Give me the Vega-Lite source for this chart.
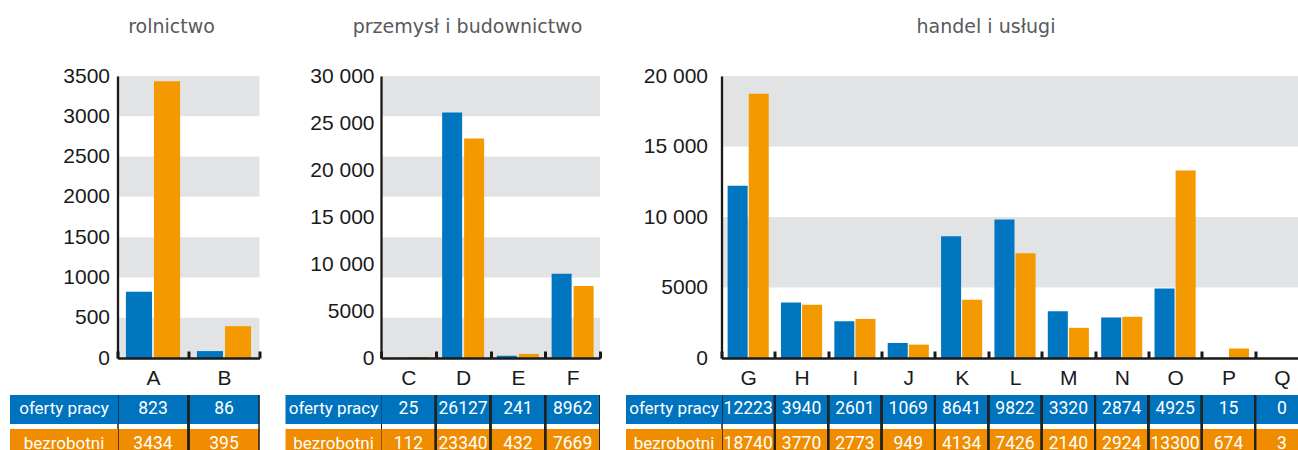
{
"$schema": "https://vega.github.io/schema/vega-lite/v6.json",
"background": "white",
"padding": {"left": -5.5, "top": 18, "right": 0, "bottom": 0},
"config": {"view": {"stroke": null}},
"datasets": {
"d": [
{"g":"rolnictwo","k":"A","s":"oferty pracy","v":823},
{"g":"rolnictwo","k":"A","s":"bezrobotni","v":3434},
{"g":"rolnictwo","k":"B","s":"oferty pracy","v":86},
{"g":"rolnictwo","k":"B","s":"bezrobotni","v":395},
{"g":"przemysl","k":"C","s":"oferty pracy","v":25},
{"g":"przemysl","k":"C","s":"bezrobotni","v":112},
{"g":"przemysl","k":"D","s":"oferty pracy","v":26127},
{"g":"przemysl","k":"D","s":"bezrobotni","v":23340},
{"g":"przemysl","k":"E","s":"oferty pracy","v":241},
{"g":"przemysl","k":"E","s":"bezrobotni","v":432},
{"g":"przemysl","k":"F","s":"oferty pracy","v":8962},
{"g":"przemysl","k":"F","s":"bezrobotni","v":7669},
{"g":"handel","k":"G","s":"oferty pracy","v":12223},
{"g":"handel","k":"G","s":"bezrobotni","v":18740},
{"g":"handel","k":"H","s":"oferty pracy","v":3940},
{"g":"handel","k":"H","s":"bezrobotni","v":3770},
{"g":"handel","k":"I","s":"oferty pracy","v":2601},
{"g":"handel","k":"I","s":"bezrobotni","v":2773},
{"g":"handel","k":"J","s":"oferty pracy","v":1069},
{"g":"handel","k":"J","s":"bezrobotni","v":949},
{"g":"handel","k":"K","s":"oferty pracy","v":8641},
{"g":"handel","k":"K","s":"bezrobotni","v":4134},
{"g":"handel","k":"L","s":"oferty pracy","v":9822},
{"g":"handel","k":"L","s":"bezrobotni","v":7426},
{"g":"handel","k":"M","s":"oferty pracy","v":3320},
{"g":"handel","k":"M","s":"bezrobotni","v":2140},
{"g":"handel","k":"N","s":"oferty pracy","v":2874},
{"g":"handel","k":"N","s":"bezrobotni","v":2924},
{"g":"handel","k":"O","s":"oferty pracy","v":4925},
{"g":"handel","k":"O","s":"bezrobotni","v":13300},
{"g":"handel","k":"P","s":"oferty pracy","v":15},
{"g":"handel","k":"P","s":"bezrobotni","v":674},
{"g":"handel","k":"Q","s":"oferty pracy","v":0},
{"g":"handel","k":"Q","s":"bezrobotni","v":3}
],
"b": [
{"g":"rolnictwo","lo":0,"hi":500},
{"g":"rolnictwo","lo":1000,"hi":1500},
{"g":"rolnictwo","lo":2000,"hi":2500},
{"g":"rolnictwo","lo":3000,"hi":3500},
{"g":"przemysl","lo":0,"hi":4286},
{"g":"przemysl","lo":8571,"hi":12857},
{"g":"przemysl","lo":17143,"hi":21429},
{"g":"przemysl","lo":25714,"hi":30000},
{"g":"handel","lo":5000,"hi":10000},
{"g":"handel","lo":15000,"hi":20000}
]
},
"spacing": 8.5,
"resolve": {"scale": {"xOffset": "independent", "x": "independent", "y": "independent"}},
"hconcat": [
{
"spacing": 0,
"resolve": {"scale": {"xOffset": "independent"}},
"vconcat": [
{
"title": {"text": "rolnictwo", "font": "DejaVu Sans", "fontSize": 19, "fontWeight": "normal", "color": "#58595b", "offset": 28, "dx": -17},
"width": 142, "height": 282,
"layer": [
{"data": {"name": "b"}, "transform": [{"filter": "datum.g==='rolnictwo'"}],
 "mark": {"type": "rect", "color": "#e2e3e5"},
 "encoding": {"y": {"field": "lo", "type": "quantitative", "scale": {"domain": [0, 3500], "nice": false},
   "axis": {"title": null, "values": [0,500,1000,1500,2000,2500,3000,3500], "format": "d", "grid": false, "ticks": false, "domainColor": "#1a1a1a", "domainWidth": 2.3, "labelFont": "Liberation Sans", "labelFontSize": 21, "labelColor": "#1a1a1a", "labelPadding": 8, "zindex": 1}},
  "y2": {"field": "hi"}}},
{"data": {"name": "d"}, "transform": [{"filter": "datum.g==='rolnictwo'"}],
 "mark": {"type": "bar"},
 "encoding": {
  "x": {"field": "k", "type": "nominal", "scale": {"paddingInner": 0, "paddingOuter": 0},
   "axis": {"title": null, "labelAngle": 0, "domainColor": "#1a1a1a", "domainWidth": 2.5, "tickBand": "extent", "tickColor": "#1a1a1a", "tickWidth": 3, "tickSize": -7, "labelPadding": 16, "labelFont": "Liberation Sans", "labelFontSize": 21, "labelColor": "#1a1a1a", "minExtent": 36, "maxExtent": 36, "zindex": 1}},
  "xOffset": {"field": "s", "sort": ["oferty pracy", "bezrobotni"], "scale": {"paddingInner": 0.07, "paddingOuter": 0.3}},
  "y": {"field": "v", "type": "quantitative", "scale": {"domain": [0, 3500], "nice": false},
   "axis": {"title": null, "values": [0,500,1000,1500,2000,2500,3000,3500], "format": "d", "grid": false, "ticks": false, "domainColor": "#1a1a1a", "domainWidth": 2.3, "labelFont": "Liberation Sans", "labelFontSize": 21, "labelColor": "#1a1a1a", "labelPadding": 8, "zindex": 1}},
  "color": {"field": "s", "type": "nominal", "scale": {"domain": ["oferty pracy", "bezrobotni"], "range": ["#0076c0", "#f49900"]}, "legend": null}}}
]
},
{"width": 142, "height": 63,
 "data": {"name": "d"},
 "transform": [{"filter": "datum.g==='rolnictwo'"}],
 "layer": [
  {"mark": {"type": "rect"}, "encoding": {
    "x": {"field": "k", "type": "nominal", "scale": {"paddingInner": 0, "paddingOuter": 0}, "axis": null},
    "y": {"field": "s", "type": "nominal", "scale": {"domain": ["oferty pracy", "bezrobotni"], "paddingInner": 0.15, "paddingOuter": 0},
      "axis": {"orient": "left", "title": null, "domain": false, "ticks": true, "tickSize": 108, "tickWidth": 29, "tickColor": {"condition": {"test": "datum.value === 'oferty pracy'", "value": "#0073be"}, "value": "#ef8c00"}, "labelColor": "white", "labelFont": "Roboto", "labelFontSize": 17, "labelAlign": "center", "labelPadding": -54}},
    "color": {"condition": {"test": "datum.s==='oferty pracy'", "value": "#0073be"}, "value": "#ef8c00"}}},
  {"mark": {"type": "text", "color": "white", "font": "Roboto", "fontSize": 17.5}, "encoding": {
    "x": {"field": "k", "type": "nominal"},
    "y": {"field": "s", "type": "nominal",
      "axis": {"orient": "left", "title": null, "domain": false, "ticks": true, "tickSize": 108, "tickWidth": 29, "tickColor": {"condition": {"test": "datum.value === 'oferty pracy'", "value": "#0073be"}, "value": "#ef8c00"}, "labelColor": "white", "labelFont": "Roboto", "labelFontSize": 17, "labelAlign": "center", "labelPadding": -54}},
    "text": {"field": "v"}}},
  {"mark": {"type": "rule", "color": "#222222", "strokeWidth": 2, "clip": true}, "encoding": {"x": {"field": "k", "type": "nominal", "bandPosition": 0}}},
  {"mark": {"type": "rule", "color": "#222222", "strokeWidth": 2, "clip": true}, "encoding": {"x": {"field": "k", "type": "nominal", "bandPosition": 1}}}
 ]}
]
},
{
"spacing": 0,
"resolve": {"scale": {"xOffset": "independent"}},
"vconcat": [
{
"title": {"text": "przemysł i budownictwo", "font": "DejaVu Sans", "fontSize": 19, "fontWeight": "normal", "color": "#58595b", "offset": 28, "dx": -23},
"width": 219, "height": 282,
"layer": [
{"data": {"name": "b"}, "transform": [{"filter": "datum.g==='przemysl'"}],
 "mark": {"type": "rect", "color": "#e2e3e5"},
 "encoding": {"y": {"field": "lo", "type": "quantitative", "scale": {"domain": [0, 30000], "nice": false},
   "axis": {"title": null, "values": [0,5000,10000,15000,20000,25000,30000], "labelExpr": "datum.value >= 10000 ? replace(format(datum.value, ','), ',', ' ') : format(datum.value, 'd')", "grid": false, "ticks": false, "domainColor": "#1a1a1a", "domainWidth": 2.3, "labelFont": "Liberation Sans", "labelFontSize": 21, "labelColor": "#1a1a1a", "labelPadding": 7, "zindex": 1}},
  "y2": {"field": "hi"}}},
{"data": {"name": "d"}, "transform": [{"filter": "datum.g==='przemysl'"}],
 "mark": {"type": "bar"},
 "encoding": {
  "x": {"field": "k", "type": "nominal", "scale": {"paddingInner": 0, "paddingOuter": 0},
   "axis": {"title": null, "labelAngle": 0, "domainColor": "#1a1a1a", "domainWidth": 2.5, "tickBand": "extent", "tickColor": "#1a1a1a", "tickWidth": 3, "tickSize": -7, "labelPadding": 16, "labelFont": "Liberation Sans", "labelFontSize": 21, "labelColor": "#1a1a1a", "minExtent": 36, "maxExtent": 36, "zindex": 1}},
  "xOffset": {"field": "s", "sort": ["oferty pracy", "bezrobotni"], "scale": {"paddingInner": 0.09, "paddingOuter": 0.29}},
  "y": {"field": "v", "type": "quantitative", "scale": {"domain": [0, 30000], "nice": false},
   "axis": {"title": null, "values": [0,5000,10000,15000,20000,25000,30000], "labelExpr": "datum.value >= 10000 ? replace(format(datum.value, ','), ',', ' ') : format(datum.value, 'd')", "grid": false, "ticks": false, "domainColor": "#1a1a1a", "domainWidth": 2.3, "labelFont": "Liberation Sans", "labelFontSize": 21, "labelColor": "#1a1a1a", "labelPadding": 7, "zindex": 1}},
  "color": {"field": "s", "type": "nominal", "scale": {"domain": ["oferty pracy", "bezrobotni"], "range": ["#0076c0", "#f49900"]}, "legend": null}}}
]
},
{"width": 219, "height": 63,
 "data": {"name": "d"},
 "transform": [{"filter": "datum.g==='przemysl'"}],
 "layer": [
  {"mark": {"type": "rect"}, "encoding": {
    "x": {"field": "k", "type": "nominal", "scale": {"paddingInner": 0, "paddingOuter": 0}, "axis": null},
    "y": {"field": "s", "type": "nominal", "scale": {"domain": ["oferty pracy", "bezrobotni"], "paddingInner": 0.15, "paddingOuter": 0},
      "axis": {"orient": "left", "title": null, "domain": false, "ticks": true, "tickSize": 96, "tickWidth": 29, "tickColor": {"condition": {"test": "datum.value === 'oferty pracy'", "value": "#0073be"}, "value": "#ef8c00"}, "labelColor": "white", "labelFont": "Roboto", "labelFontSize": 17, "labelAlign": "center", "labelPadding": -48}},
    "color": {"condition": {"test": "datum.s==='oferty pracy'", "value": "#0073be"}, "value": "#ef8c00"}}},
  {"mark": {"type": "text", "color": "white", "font": "Roboto", "fontSize": 17.5}, "encoding": {
    "x": {"field": "k", "type": "nominal"},
    "y": {"field": "s", "type": "nominal",
      "axis": {"orient": "left", "title": null, "domain": false, "ticks": true, "tickSize": 96, "tickWidth": 29, "tickColor": {"condition": {"test": "datum.value === 'oferty pracy'", "value": "#0073be"}, "value": "#ef8c00"}, "labelColor": "white", "labelFont": "Roboto", "labelFontSize": 17, "labelAlign": "center", "labelPadding": -48}},
    "text": {"field": "v"}}},
  {"mark": {"type": "rule", "color": "#222222", "strokeWidth": 2, "clip": true}, "encoding": {"x": {"field": "k", "type": "nominal", "bandPosition": 0}}},
  {"mark": {"type": "rule", "color": "#222222", "strokeWidth": 2, "clip": true}, "encoding": {"x": {"field": "k", "type": "nominal", "bandPosition": 1}}}
 ]}
]
},
{
"spacing": 0,
"resolve": {"scale": {"xOffset": "independent"}},
"vconcat": [
{
"title": {"text": "handel i usługi", "font": "DejaVu Sans", "fontSize": 19, "fontWeight": "normal", "color": "#58595b", "offset": 28, "dx": -29},
"width": 587, "height": 282,
"layer": [
{"data": {"name": "b"}, "transform": [{"filter": "datum.g==='handel'"}],
 "mark": {"type": "rect", "color": "#e2e3e5"},
 "encoding": {"y": {"field": "lo", "type": "quantitative", "scale": {"domain": [0, 20000], "nice": false},
   "axis": {"title": null, "values": [0,5000,10000,15000,20000], "labelExpr": "datum.value >= 10000 ? replace(format(datum.value, ','), ',', ' ') : format(datum.value, 'd')", "grid": false, "ticks": false, "domainColor": "#1a1a1a", "domainWidth": 2.3, "labelFont": "Liberation Sans", "labelFontSize": 21, "labelColor": "#1a1a1a", "labelPadding": 14, "zindex": 1}},
  "y2": {"field": "hi"}}},
{"data": {"name": "d"}, "transform": [{"filter": "datum.g==='handel'"}],
 "mark": {"type": "bar"},
 "encoding": {
  "x": {"field": "k", "type": "nominal", "scale": {"paddingInner": 0, "paddingOuter": 0},
   "axis": {"title": null, "labelAngle": 0, "domainColor": "#1a1a1a", "domainWidth": 2.5, "tickBand": "extent", "tickColor": "#1a1a1a", "tickWidth": 3, "tickSize": -7, "labelPadding": 16, "labelFont": "Liberation Sans", "labelFontSize": 21, "labelColor": "#1a1a1a", "minExtent": 36, "maxExtent": 36, "zindex": 1}},
  "xOffset": {"field": "s", "sort": ["oferty pracy", "bezrobotni"], "scale": {"paddingInner": 0.05, "paddingOuter": 0.29}},
  "y": {"field": "v", "type": "quantitative", "scale": {"domain": [0, 20000], "nice": false},
   "axis": {"title": null, "values": [0,5000,10000,15000,20000], "labelExpr": "datum.value >= 10000 ? replace(format(datum.value, ','), ',', ' ') : format(datum.value, 'd')", "grid": false, "ticks": false, "domainColor": "#1a1a1a", "domainWidth": 2.3, "labelFont": "Liberation Sans", "labelFontSize": 21, "labelColor": "#1a1a1a", "labelPadding": 14, "zindex": 1}},
  "color": {"field": "s", "type": "nominal", "scale": {"domain": ["oferty pracy", "bezrobotni"], "range": ["#0076c0", "#f49900"]}, "legend": null}}}
]
},
{"width": 587, "height": 63,
 "data": {"name": "d"},
 "transform": [{"filter": "datum.g==='handel'"}],
 "layer": [
  {"mark": {"type": "rect"}, "encoding": {
    "x": {"field": "k", "type": "nominal", "scale": {"paddingInner": 0, "paddingOuter": 0}, "axis": null},
    "y": {"field": "s", "type": "nominal", "scale": {"domain": ["oferty pracy", "bezrobotni"], "paddingInner": 0.15, "paddingOuter": 0},
      "axis": {"orient": "left", "title": null, "domain": false, "ticks": true, "tickSize": 96, "tickWidth": 29, "tickColor": {"condition": {"test": "datum.value === 'oferty pracy'", "value": "#0073be"}, "value": "#ef8c00"}, "labelColor": "white", "labelFont": "Roboto", "labelFontSize": 17, "labelAlign": "center", "labelPadding": -48}},
    "color": {"condition": {"test": "datum.s==='oferty pracy'", "value": "#0073be"}, "value": "#ef8c00"}}},
  {"mark": {"type": "text", "color": "white", "font": "Roboto", "fontSize": 17.5}, "encoding": {
    "x": {"field": "k", "type": "nominal"},
    "y": {"field": "s", "type": "nominal",
      "axis": {"orient": "left", "title": null, "domain": false, "ticks": true, "tickSize": 96, "tickWidth": 29, "tickColor": {"condition": {"test": "datum.value === 'oferty pracy'", "value": "#0073be"}, "value": "#ef8c00"}, "labelColor": "white", "labelFont": "Roboto", "labelFontSize": 17, "labelAlign": "center", "labelPadding": -48}},
    "text": {"field": "v"}}},
  {"mark": {"type": "rule", "color": "#222222", "strokeWidth": 2, "clip": true}, "encoding": {"x": {"field": "k", "type": "nominal", "bandPosition": 0}}},
  {"mark": {"type": "rule", "color": "#222222", "strokeWidth": 2, "clip": true}, "encoding": {"x": {"field": "k", "type": "nominal", "bandPosition": 1}}}
 ]}
]
}
]
}
